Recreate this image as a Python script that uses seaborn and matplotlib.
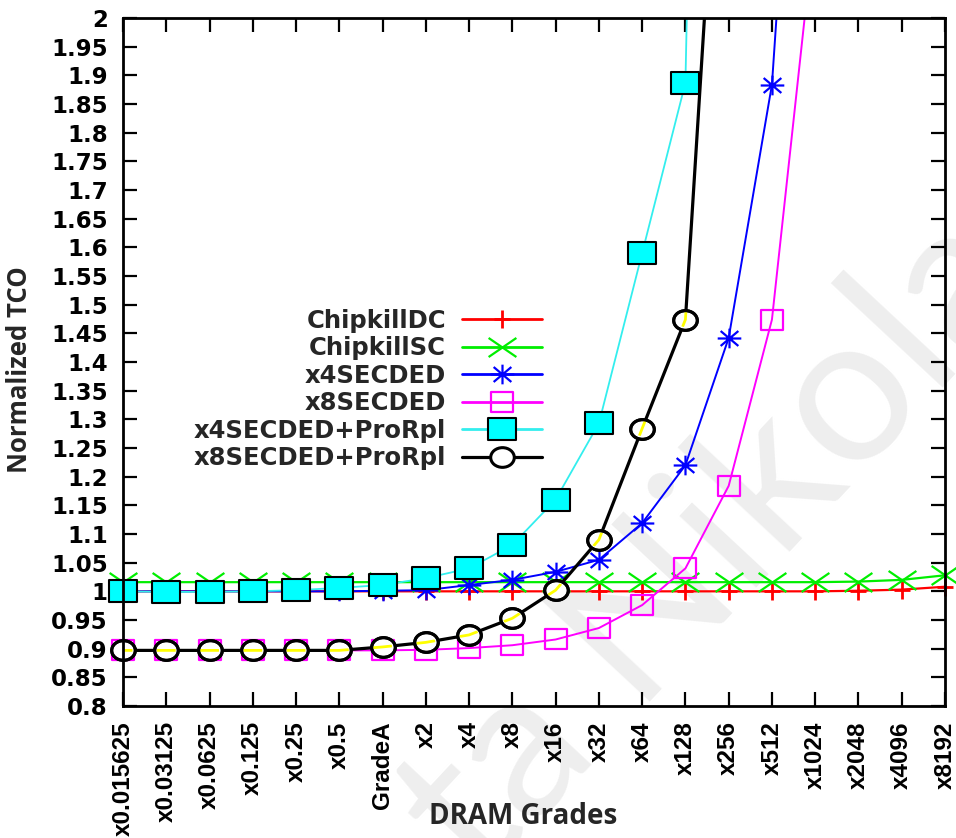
import numpy as np
import matplotlib
matplotlib.use("Agg")
import matplotlib.pyplot as plt
from matplotlib.path import Path
from matplotlib.transforms import Affine2D, IdentityTransform
from matplotlib.lines import Line2D
import seaborn as sns

# DRAM grade categories along the x axis
grades = ["x0.015625", "x0.03125", "x0.0625", "x0.125", "x0.25", "x0.5", "GradeA",
          "x2", "x4", "x8", "x16", "x32", "x64", "x128", "x256", "x512",
          "x1024", "x2048", "x4096", "x8192"]

nan = np.nan
# Normalized TCO per scheme (values above 2 run off the top of the plot)
chipkill_dc = [1.000, 1.000, 1.000, 1.000, 1.000, 1.000, 1.000, 1.000, 1.000, 1.000,
               1.000, 1.000, 1.000, 1.000, 1.000, 1.000, 1.000, 1.001, 1.003, 1.008]
chipkill_sc = [1.016, 1.016, 1.016, 1.016, 1.016, 1.016, 1.016, 1.016, 1.016, 1.016,
               1.016, 1.016, 1.016, 1.016, 1.016, 1.016, 1.016, 1.017, 1.020, 1.028]
x4_secded = [1.000, 1.000, 1.000, 1.000, 1.000, 1.000, 1.001, 1.002, 1.011, 1.020,
             1.034, 1.055, 1.119, 1.220, 1.442, 1.884, 3.000, nan, nan, nan]
x8_secded = [0.897, 0.897, 0.897, 0.897, 0.897, 0.897, 0.897, 0.898, 0.901, 0.906,
             0.916, 0.936, 0.976, 1.040, 1.184, 1.474, 2.170, nan, nan, nan]
x4_prorpl = [1.000, 0.999, 0.999, 1.000, 1.002, 1.006, 1.011, 1.023, 1.040, 1.081,
             1.160, 1.293, 1.590, 1.887, 5.500, nan, nan, nan, nan, nan]
x8_prorpl = [0.897, 0.897, 0.897, 0.897, 0.897, 0.897, 0.903, 0.911, 0.924, 0.953,
             1.002, 1.090, 1.284, 1.474, 2.670, nan, nan, nan, nan, nan]

series_names = ["ChipkillDC", "ChipkillSC", "x4SECDED", "x8SECDED",
                "x4SECDED+ProRpl", "x8SECDED+ProRpl"]

y_min, y_max, y_step = 0.8, 2.0, 0.05

sns.set_theme(style="ticks")
plt.rcParams["font.family"] = ["DejaVu Sans"]

# ---- gnuplot-like point shapes (slightly wider than tall) ----
M, L, C = Path.MOVETO, Path.LINETO, Path.CLOSEPOLY
plus_mk = Path([(-0.5, 0), (0.5, 0), (0, -0.55), (0, 0.55)], [M, L, M, L])
cross_mk = Path([(-0.7, -0.48), (0.7, 0.48), (-0.7, 0.48), (0.7, -0.48)], [M, L, M, L])
star_mk = Path([(-0.6, 0), (0.6, 0), (0, -0.5), (0, 0.5),
                (-0.45, -0.38), (0.45, 0.38), (-0.45, 0.38), (0.45, -0.38)],
               [M, L, M, L, M, L, M, L])


def rect(w, h):
    return Path([(-w, -h), (w, -h), (w, h), (-w, h), (-w, -h)], [M, L, L, L, C])


small_box = rect(0.55, 0.5)
big_box = rect(0.61, 0.5)
ring = Affine2D().scale(1.2, 1.0).transform_path(Path.unit_circle())

fig = plt.figure(figsize=(9.56, 8.38), dpi=100)
fig.patch.set_facecolor("white")
ax = fig.add_axes([123 / 956, 1 - 706 / 838, 822 / 956, 688 / 838])
ax.set_facecolor("none")

xi = np.arange(len(grades))

# faint diagonal watermark behind the plot
fig.text(480 / 956, 1 - 885 / 838, "ta Nikola", rotation=47, rotation_mode="anchor",
         ha="left", va="baseline", fontsize=150, family="Lato", color="#eeeeee",
         zorder=-5)

styles = [
    dict(values=chipkill_dc, color="#ff0000", lw=1.6, marker=plus_mk, ms=13,
         mec="#ff0000", mfc="none", mew=2.0, z=2.0),
    dict(values=chipkill_sc, color="#00ee00", lw=1.6, marker=cross_mk, ms=20,
         mec="#00ee00", mfc="none", mew=1.6, z=2.2),
    dict(values=x4_secded, color="#0000ff", lw=1.4, marker=star_mk, ms=17,
         mec="#0000ff", mfc="none", mew=1.6, z=2.4),
    dict(values=x8_secded, color="#ff00ff", lw=1.4, marker=small_box, ms=16,
         mec="#ff00ff", mfc="none", mew=1.6, z=2.6),
    dict(values=x4_prorpl, color="#33eeee", lw=1.3, marker=big_box, ms=20,
         mec="black", mfc="#00ffff", mew=1.5, z=2.8),
    dict(values=x8_prorpl, color="black", lw=2.3, marker=ring, ms=17,
         mec="black", mfc="white", mew=2.2, z=3.0),
]

handles = []
for name, st in zip(series_names, styles):
    vals = np.array(st["values"], dtype=float)
    if name == "x8SECDED+ProRpl":
        # thin yellow trace under the black curve
        sns.lineplot(x=xi, y=vals, ax=ax, color="#ffff00", lw=2.0, zorder=st["z"] - 0.05,
                     errorbar=None, legend=False)
    sns.lineplot(x=xi, y=vals, ax=ax, color=st["color"], lw=st["lw"], zorder=st["z"],
                 errorbar=None, legend=False)
    shown = np.where(vals <= y_max, vals, nan)
    sns.lineplot(x=xi, y=shown, ax=ax, linestyle="none", marker=st["marker"],
                 markersize=st["ms"], markeredgecolor=st["mec"],
                 markerfacecolor=st["mfc"], markeredgewidth=st["mew"],
                 clip_on=False, zorder=st["z"] + 0.05, errorbar=None, legend=False)
    handles.append(Line2D([], [], color=st["color"], lw=max(st["lw"], 2.0),
                          marker=st["marker"], markersize=st["ms"],
                          markeredgecolor=st["mec"], markerfacecolor=st["mfc"],
                          markeredgewidth=st["mew"]))

ax.set_xlim(0, len(grades) - 1)
ax.set_ylim(y_min, y_max)

# yellow shows through the open circles of the black curve
yellow_line = ax.lines[-3]
fig.canvas.draw()
ring_vals = np.array(x8_prorpl, dtype=float)
pts = [(x, y) for x, y in zip(xi, ring_vals) if not np.isnan(y) and y <= y_max]
disp = ax.transData.transform(pts)
rings = [Affine2D().scale(9.5, 7.5).translate(px, py).transform_path(Path.unit_circle())
         for px, py in disp]
inner = Path.make_compound_path(*rings)
ring_fill = ax.lines[-1]
ring_fill.set_zorder(3.02)
yellow_line.set_zorder(3.04)
yellow_line.set_linewidth(2.0)
yellow_line.set_clip_path(inner, IdentityTransform())
sns.lineplot(x=xi, y=np.where(ring_vals <= y_max, ring_vals, nan), ax=ax,
             linestyle="none", marker=ring, markersize=17, markeredgecolor="black",
             markerfacecolor="none", markeredgewidth=2.2, clip_on=False,
             zorder=3.08, errorbar=None, legend=False)

# ---- axes decoration ----
yticks = np.round(np.arange(y_min, y_max + y_step / 2, y_step), 2)
ax.set_yticks(yticks, labels=[f"{v:g}" for v in yticks], fontsize=16.5,
              fontweight="bold", family="DejaVu Sans")
ax.set_xticks(xi, labels=grades, rotation=90, fontsize=17.5, fontweight="bold",
              family="Liberation Sans")
ax.tick_params(axis="both", direction="in", length=10, width=1.6, color="black",
               top=True, right=True, pad=11, labelcolor="black")
for sp in ax.spines.values():
    sp.set_visible(True)
    sp.set_linewidth(2.0)
    sp.set_color("black")
    sp.set_zorder(4)
ax.grid(False)

ax.set_xlabel("DRAM Grades", fontsize=20, fontweight="bold", family="Open Sans",
              va="center")
ax.xaxis.set_label_coords((523 - 123) / 822, (706 - 816) / 688)
ax.set_ylabel("Normalized TCO", fontsize=18.5, fontweight="bold", family="Open Sans",
              va="center")
ax.yaxis.set_label_coords((20 - 123) / 822, (706 - 370) / 688)

ax.legend(handles, series_names, loc="center right",
          bbox_to_anchor=(542 / 956, 1 - 389.5 / 838), bbox_transform=fig.transFigure,
          frameon=False, markerfirst=False, numpoints=1, handlelength=3.3,
          handletextpad=0.65, labelspacing=0.14, borderpad=0, borderaxespad=0,
          prop=dict(family="DejaVu Sans", weight="bold", size=17.5))

fig.savefig("out.png", dpi=100, facecolor="white")
